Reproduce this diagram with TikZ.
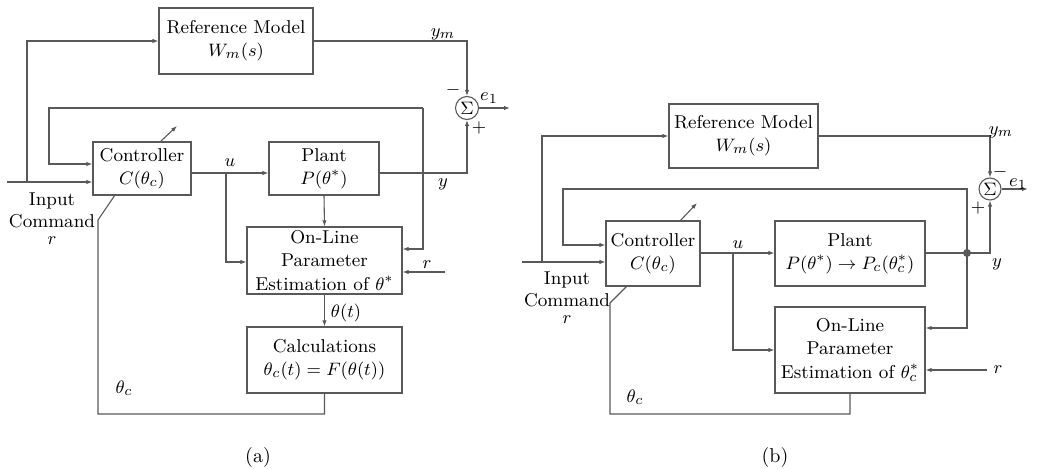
\documentclass[tikz,border=0pt]{standalone}
\usetikzlibrary{arrows.meta,calc}
\colorlet{lc}{black!65}
\begin{document}
\begin{tikzpicture}[x=0.5pt,y=-0.5pt,
  font=\fontsize{9.3}{11.6}\selectfont,
  line width=0.55pt,
  blk/.style={draw=lc,rectangle,inner sep=0pt,align=center},
  sumc/.style={draw=lc,circle,inner sep=0pt,minimum size=11.5pt},
  wire/.style={draw=lc},
  arr/.style={draw=lc,-{Latex[length=3pt,width=2.2pt]}},
  lbl/.style={inner sep=0pt},
  inlbl/.style={inner sep=0pt,align=center,anchor=north,font=\fontsize{9.3}{11}\selectfont}]
\useasboundingbox (0,0) rectangle (1037,469);

% ---------------- (a) ----------------
\node[blk,minimum width=77pt,minimum height=33pt] (RMa) at (236,41) {Reference Model\\$W_m(s)$};
\node[blk,minimum width=49pt,minimum height=26.5pt] (Cona) at (142,168.5) {Controller\\$C(\theta_c)$};
\node[blk,minimum width=55pt,minimum height=26.5pt] (Plna) at (324,168.5) {Plant\\$P(\theta^*)$};
\node[blk,minimum width=77.5pt,minimum height=33.5pt] (Esta) at (324.5,260.5) {On-Line\\Parameter\\Estimation of $\theta^*$};
\node[blk,minimum width=77.5pt,minimum height=33pt] (Cala) at (324.5,360) {Calculations\\$\theta_c(t)=F(\theta(t))$};
\node[sumc] (Suma) at (467,108) {$\Sigma$};

\coordinate (ina) at (7,182);
\coordinate (bra) at (27,182);
\coordinate (fba) at (423,108);
\coordinate (uba) at (226,173);
\coordinate (ra) at (445,272);
\coordinate (e1a) at (510,108);

\draw[arr] (ina) -- (Cona.west |- ina);
\draw[arr] (bra) |- (RMa.west);
\draw[arr] (RMa.east) -| (Suma.north);
\draw[arr] (Suma.east) -- (e1a);
\draw[arr] (fba) |- (Esta.east |- 0,249);
\draw[arr] (fba) -| (49,164) -- (Cona.west |- 0,164);
\draw[arr] (Cona.east |- uba) -- (Plna.west |- uba);
\draw[arr] (uba) |- (Esta.west |- 0,262);
\draw[arr] (Plna.east |- uba) -| (Suma.south);
\draw[arr] (Plna.south) -- (Esta.north);
\draw[arr] (ra) -- (Esta.east |- ra);
\draw[arr] (Esta.south) -- (Cala.north);
\draw[wire] (Cala.south) -- (324.5,414) -| (98,220) -- (115,195);
\draw[arr] (160,142) -- (177,126);

\node[lbl] at (443,34) {$y_m$};
\node[lbl] at (453,90) {$-$};
\node[lbl] at (479,128) {$+$};
\node[lbl] at (489,98) {$e_1$};
\node[lbl] at (230,163) {$u$};
\node[lbl] at (443,184) {$y$};
\node[inlbl] (cmda) at (52,192) {Input\\Command\\[-2.5pt]$r$};
\node[lbl] at (124,388) {$\theta_c$};
\node[lbl] at (427,265) {$r$};
\node[lbl] at (346,313) {$\theta(t)$};
\node[lbl,font=\fontsize{10}{12}\selectfont] at (258,457) {(a)};

% ---------------- (b) ----------------
\node[blk,minimum width=74.5pt,minimum height=32pt] (RMb) at (743.5,136) {Reference Model\\$W_m(s)$};
\node[blk,minimum width=47pt,minimum height=32.5pt] (Conb) at (653,253.5) {Controller\\$C(\theta_c)$};
\node[blk,minimum width=75pt,minimum height=32.5pt] (Plnb) at (850,253.5) {Plant\\$P(\theta^*)\to P_c(\theta_c^*)$};
\node[blk,minimum width=75pt,minimum height=43pt] (Estb) at (850,350) {On-Line\\Parameter\\Estimation of $\theta_c^*$};
\node[sumc,minimum size=11pt] (Sumb) at (990,189) {$\Sigma$};

\coordinate (inb) at (522,262);
\coordinate (brb) at (542,262);
\coordinate (ubb) at (733,253);
\coordinate (rb) at (987,370);
\coordinate (e1b) at (1028,189);
\fill[lc] (967,253) circle (2pt) coordinate (dotb);

\draw[arr] (inb) -- (Conb.west |- inb);
\draw[arr] (brb) |- (RMb.west);
\draw[arr] (RMb.east) -| (Sumb.north);
\draw[arr] (Sumb.east) -- (e1b);
\draw[arr] (Conb.east |- ubb) -- (Plnb.west |- ubb);
\draw[arr] (ubb) |- (Estb.west);
\draw[arr] (Plnb.east |- ubb) -| (Sumb.south);
\draw[arr] (dotb) |- (Estb.east |- 0,328);
\draw[arr] (dotb) -- (967,189) -| (563,245) -- (Conb.west |- 0,245);
\draw[arr] (rb) -- (Estb.east |- rb);
\draw[wire] (Estb.south) -- (850,414) -| (610,303) -- (627,286);
\draw[arr] (680,221) -- (697,203);

\node[lbl] at (1001,132) {$y_m$};
\node[lbl] at (1000,172) {$-$};
\node[lbl] at (978,208) {$+$};
\node[lbl] at (1018,184) {$e_1$};
\node[lbl] at (738,245) {$u$};
\node[lbl] at (997,264) {$y$};
\node[inlbl] (cmdb) at (567,271) {Input\\Command\\[-2.5pt]$r$};
\node[lbl] at (635,397) {$\theta_c$};
\node[lbl] at (998,370) {$r$};
\node[lbl,font=\fontsize{10}{12}\selectfont] at (775,457) {(b)};
\end{tikzpicture}
\end{document}
